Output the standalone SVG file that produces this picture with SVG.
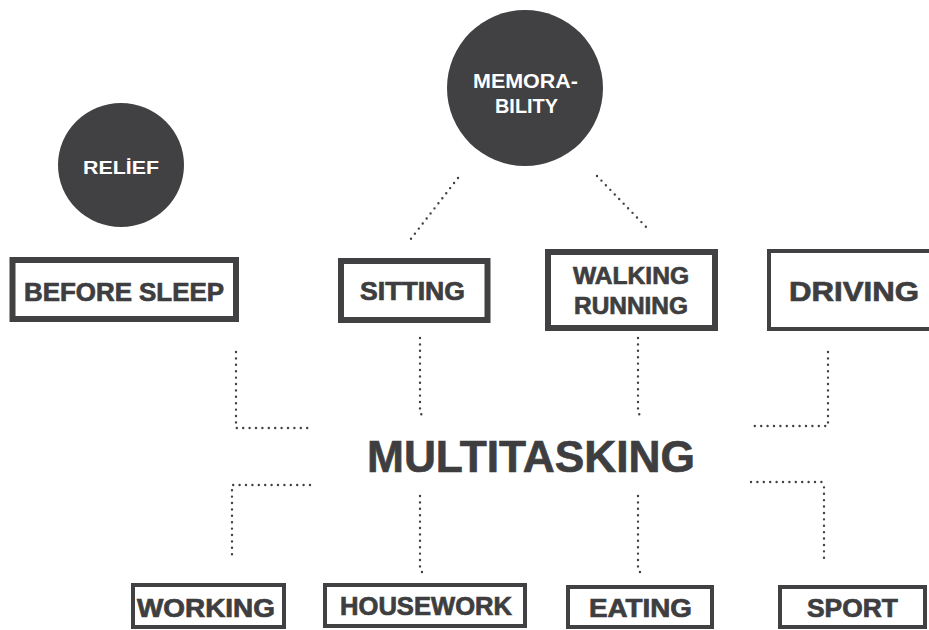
<svg xmlns="http://www.w3.org/2000/svg" width="929" height="630" viewBox="0 0 929 630">
<style>
.box{fill:#fff;stroke:#414042}
.thick{stroke-width:6}
.thin{stroke-width:4}
.bl{font-family:"Liberation Sans",Arial,sans-serif;font-weight:bold;fill:#3e3e40;stroke:#3e3e40;stroke-width:0.7;text-anchor:middle}
.wt{font-family:"Liberation Sans",Arial,sans-serif;font-weight:bold;fill:#fff;text-anchor:middle}
.dot{fill:none;stroke:#414042;stroke-width:2.4;stroke-linecap:round;stroke-dasharray:0 6.4}
</style>
<rect width="929" height="630" fill="#fff"/>
<g id="connectors">
<path class="dot" d="M236,352 V428 H309"/>
<path class="dot" d="M420,338 V413 L425,418"/>
<path class="dot" d="M638,338 V413 L643,418"/>
<path class="dot" d="M828,352 V426 H750"/>
<path class="dot" d="M310,485 H232 V558"/>
<path class="dot" d="M420,496 V570 L425,575"/>
<path class="dot" d="M638,496 V570 L643,575"/>
<path class="dot" d="M751,482 H822 L824,486 V560"/>
<path class="dot" d="M458,178 L410,240"/>
<path class="dot" d="M597,176 L650,231"/>
</g>
<g id="relief">
<ellipse cx="121" cy="165" rx="63" ry="62" fill="#414042"/>
<text class="wt" x="121" y="174" font-size="19" textLength="76" lengthAdjust="spacingAndGlyphs">RELİEF</text>
</g>
<g id="memorability">
<circle cx="525" cy="88" r="78" fill="#414042"/>
<text class="wt" x="525.5" y="88" font-size="20" font-weight="600" textLength="105" lengthAdjust="spacingAndGlyphs">MEMORA-</text>
<text class="wt" x="526.5" y="113" font-size="20" font-weight="600" textLength="63" lengthAdjust="spacingAndGlyphs">BILITY</text>
</g>
<g id="before-sleep">
<rect class="box thick" x="12.5" y="260" width="223.5" height="59"/>
<text class="bl" x="124" y="301" font-size="25" textLength="200" lengthAdjust="spacingAndGlyphs">BEFORE SLEEP</text>
</g>
<g id="sitting">
<rect class="box thick" x="341" y="261" width="146.5" height="59"/>
<text class="bl" x="412.5" y="300" font-size="25" textLength="105" lengthAdjust="spacingAndGlyphs">SITTING</text>
</g>
<g id="walking-running">
<rect class="box thick" x="548" y="252" width="167" height="76"/>
<text class="bl" x="631" y="284" font-size="24" textLength="116" lengthAdjust="spacingAndGlyphs">WALKING</text>
<text class="bl" x="631" y="314" font-size="24" textLength="114" lengthAdjust="spacingAndGlyphs">RUNNING</text>
</g>
<g id="driving">
<rect class="box thin" x="769" y="251" width="200" height="78"/>
<text class="bl" x="854" y="301" font-size="27" textLength="130" lengthAdjust="spacingAndGlyphs">DRIVING</text>
</g>
<g id="multitasking">
<text class="bl" x="531" y="472" font-size="45" stroke-width="1.2" textLength="328" lengthAdjust="spacingAndGlyphs">MULTITASKING</text>
</g>
<g id="working">
<rect class="box thin" x="133" y="585" width="151" height="42"/>
<text class="bl" x="206" y="617" font-size="25" textLength="138" lengthAdjust="spacingAndGlyphs">WORKING</text>
</g>
<g id="housework">
<rect class="box thin" x="325" y="585" width="200" height="41"/>
<text class="bl" x="426" y="615" font-size="25" textLength="172" lengthAdjust="spacingAndGlyphs">HOUSEWORK</text>
</g>
<g id="eating">
<rect class="box thin" x="568" y="587" width="144" height="40"/>
<text class="bl" x="640.5" y="617" font-size="25" textLength="103" lengthAdjust="spacingAndGlyphs">EATING</text>
</g>
<g id="sport">
<rect class="box thin" x="780" y="587" width="145" height="40"/>
<text class="bl" x="852.5" y="617" font-size="25" textLength="91" lengthAdjust="spacingAndGlyphs">SPORT</text>
</g>
</svg>
